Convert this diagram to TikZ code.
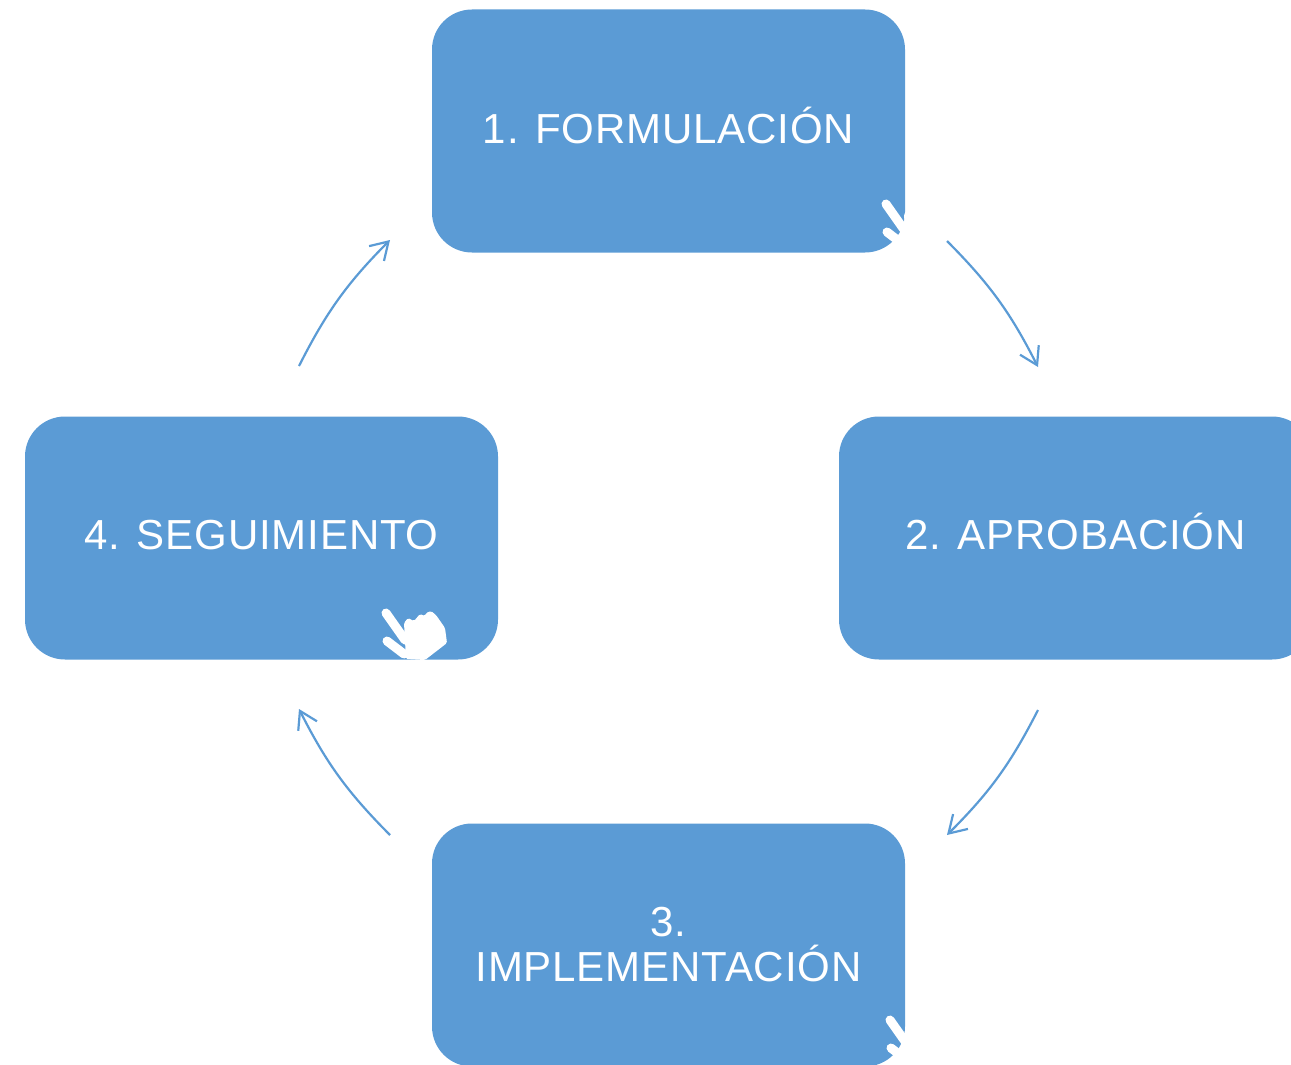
\documentclass[tikz,border=0pt]{standalone}
\usepackage{fontspec}
\setmainfont[LetterSpace=2]{Liberation Sans}
\usetikzlibrary{arrows.meta}
\definecolor{boxblue}{HTML}{5B9BD5}
\tikzset{
	stagebox/.style={fill=boxblue, text=white, rounded corners=40pt, minimum width=473pt, minimum height=243pt, align=center, font=\fontsize{42}{45}\selectfont},
	oneline/.style={text height=30pt, text depth=#1},
	cyclearrow/.style={draw=boxblue, line width=2.2pt, -{Straight Barb[length=17pt,width=21pt,line width=2.2pt]}},
	hand/.pic={
		\fill[white, rounded corners=1.5pt] (18,10) -- (22,5) -- (28,8) -- (34,1) -- (39,3) -- (40,0) -- (45,-2) -- (50,2) -- (59,15) -- (61,30) -- (39,47) -- (20,46) -- cycle;
		\draw[white, line width=9pt, line cap=round] (0,0) -- (19,27);
		\draw[white, line width=9pt, line cap=round] (1,28) -- (18,41);
	}
}
\begin{document}
\begin{tikzpicture}[x=1pt,y=-1pt]
	\useasboundingbox (0,0) rectangle (1291,1065);
	\clip (0,0) rectangle (1291,1065);

	\node[stagebox, oneline=5pt] (formulacion) at (668.5,131) {1. FORMULACIÓN};
	\node[stagebox, oneline=8pt] (aprobacion) at (1075.5,538) {2. APROBACIÓN};
	\node[stagebox] (implementacion) at (668.5,945) {3.\\IMPLEMENTACIÓN};
	\node[stagebox, oneline=8pt] (seguimiento) at (261.5,538) {4. SEGUIMIENTO};

	\pic at (886,204) {hand};
	\pic at (386,613) {hand};
	\pic at (890,1020) {hand};

	\coordinate (a1) at (947,241);
	\coordinate (a2) at (1038,367);
	\coordinate (b1) at (1038,710);
	\coordinate (b2) at (947,835);
	\coordinate (c1) at (390,835);
	\coordinate (c2) at (299,709);
	\coordinate (d1) at (299,366);
	\coordinate (d2) at (390,240);

	\draw[cyclearrow] (a1) to[bend left=9] (a2);
	\draw[cyclearrow] (b1) to[bend left=9] (b2);
	\draw[cyclearrow] (c1) to[bend left=9] (c2);
	\draw[cyclearrow] (d1) to[bend left=9] (d2);
\end{tikzpicture}
\end{document}
